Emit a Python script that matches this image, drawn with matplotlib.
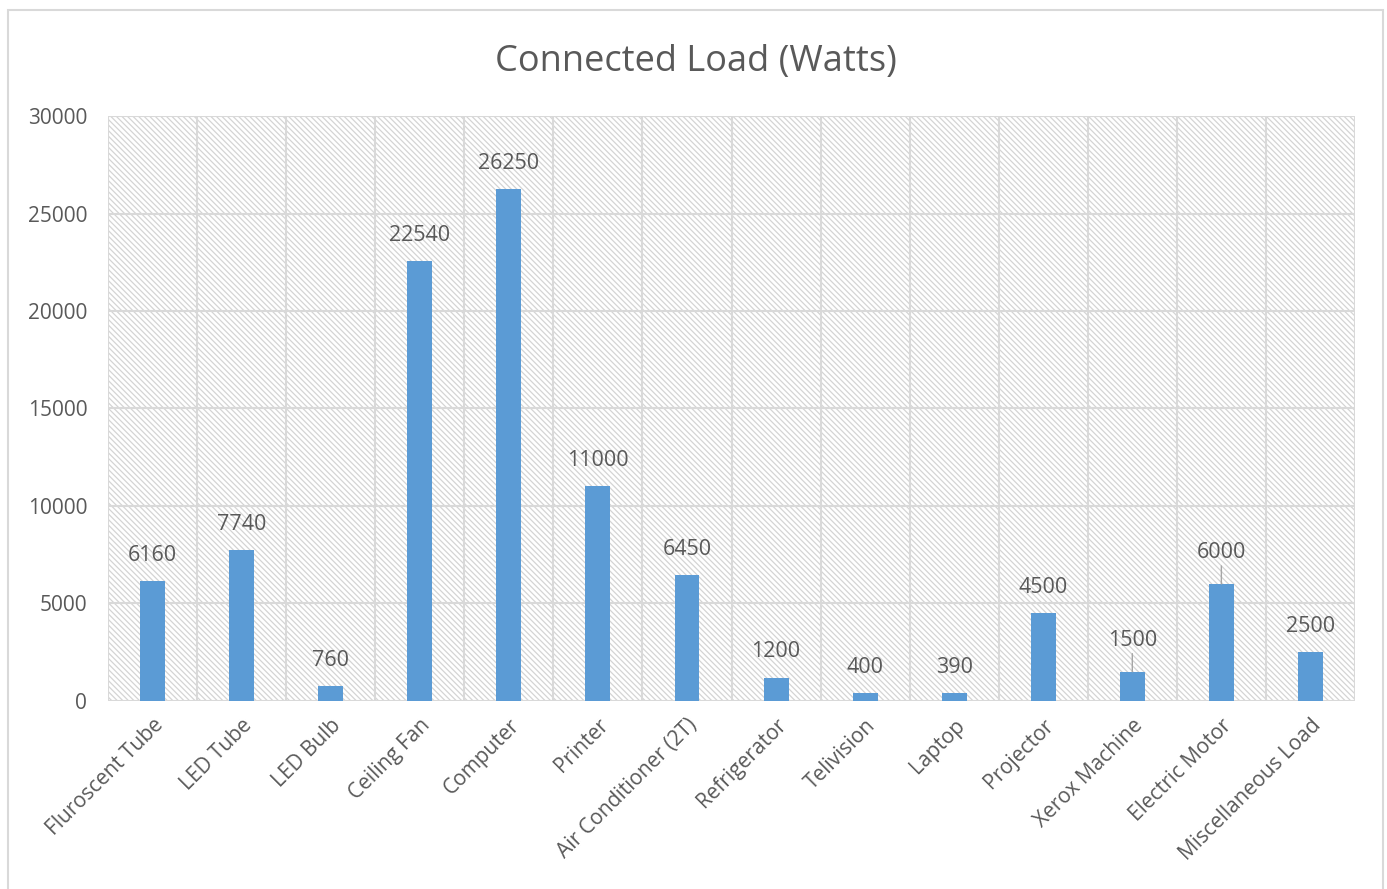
import matplotlib.pyplot as plt
from matplotlib.patches import Rectangle

categories = ["Fluroscent Tube", "LED Tube", "LED Bulb", "Ceiling Fan", "Computer",
              "Printer", "Air Conditioner (2T)", "Refrigerator", "Telivision", "Laptop",
              "Projector", "Xerox Machine", "Electric Motor", "Miscellaneous Load"]
watts = [6160, 7740, 760, 22540, 26250, 11000, 6450, 1200, 400, 390, 4500, 1500, 6000, 2500]
y_ticks = [0, 5000, 10000, 15000, 20000, 25000, 30000]
# labels lifted above the bar with a leader line in the original
leader_labels = ["Xerox Machine", "Electric Motor"]

text_color = "#595959"
grid_color = "#D9D9D9"
bar_color = "#5B9BD5"

plt.rcParams["font.family"] = ["Open Sans", "DejaVu Sans"]
plt.rcParams["hatch.color"] = "#D4D4D4"
plt.rcParams["hatch.linewidth"] = 0.9

fig = plt.figure(figsize=(13.87, 8.89), dpi=100)
fig.patches.append(Rectangle((0.006, -0.01), 0.991, 0.999, transform=fig.transFigure,
                             fill=False, edgecolor=grid_color, linewidth=1.5))
ax = fig.add_axes([0.0779, 0.2115, 0.899, 0.658])

ax.patch.set_hatch("\\\\\\\\\\\\")
ax.patch.set_edgecolor("#D4D4D4")

x = list(range(len(categories)))
ax.bar(x, watts, width=0.28, color=bar_color, zorder=3)

ax.set_xlim(-0.5, len(categories) - 0.5)
ax.set_ylim(0, 30000)
ax.set_yticks(y_ticks)
ax.set_yticklabels([str(v) for v in y_ticks], fontsize=15, color=text_color)
ax.set_xticks(x)
ax.set_xticklabels(categories, rotation=45, ha="right", rotation_mode="anchor",
                   fontsize=15, color=text_color)
ax.tick_params(length=0)
ax.tick_params(axis="y", pad=15)
ax.tick_params(axis="x", pad=10)

for v in y_ticks:
    ax.axhline(v, color=grid_color, linewidth=1.5, zorder=1)
for i in range(len(categories) + 1):
    ax.axvline(i - 0.5, color=grid_color, linewidth=1.5, zorder=1)
for s in ax.spines.values():
    s.set_visible(False)

for i, (cat, v) in enumerate(zip(categories, watts)):
    if cat in leader_labels:
        ax.annotate(str(v), xy=(i, v), xytext=(0, 15), textcoords="offset points",
                    ha="center", va="bottom", fontsize=15.5, color=text_color,
                    arrowprops=dict(arrowstyle="-", color="#A6A6A6", lw=1,
                                    shrinkA=0, shrinkB=0))
    else:
        ax.annotate(str(v), xy=(i, v), xytext=(0, 11), textcoords="offset points",
                    ha="center", va="bottom", fontsize=15.5, color=text_color)

fig.text(0.502, 0.930, "Connected Load (Watts)", ha="center", va="center",
         fontsize=26, color=text_color)

fig.savefig("out.png", dpi=100)
